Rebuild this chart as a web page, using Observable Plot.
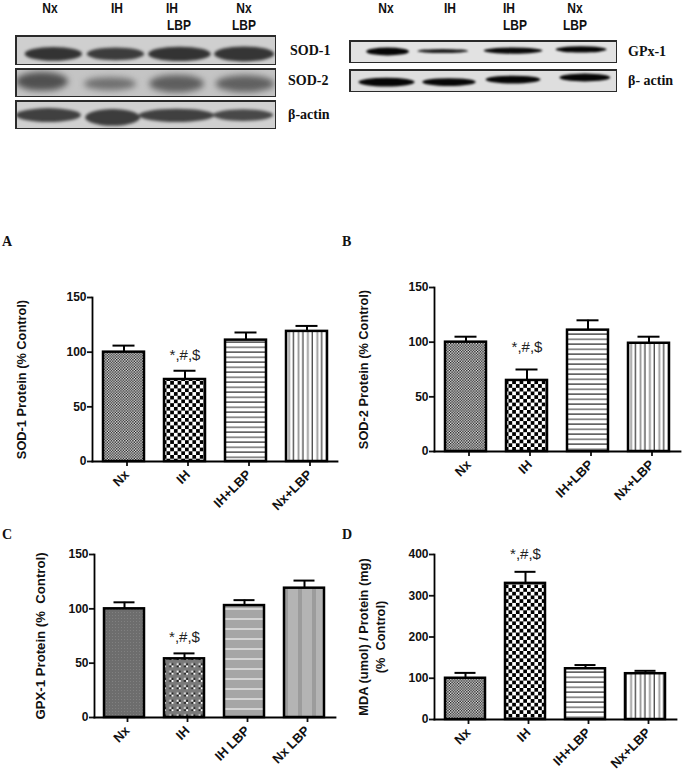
<!DOCTYPE html>
<html><head><meta charset="utf-8">
<script src="https://cdn.jsdelivr.net/npm/d3@7"></script>
<script src="https://cdn.jsdelivr.net/npm/@observablehq/plot@0.6"></script>
<style>
html,body{margin:0;padding:0;background:#fff;width:683px;height:771px;overflow:hidden}
#page{position:relative;width:683px;height:771px}
#page>svg,#page>figure{position:absolute;margin:0}
.t{position:absolute;white-space:nowrap;color:#111}
.lane{font:bold 15px "Liberation Sans";transform:translateX(-50%) scaleX(.8)}
.side{font:bold 14px "Liberation Serif"}
.panel{font:bold 14px "Liberation Serif"}
</style></head><body><div id="page"></div>
<svg width="0" height="0" style="position:absolute">
<defs>
<pattern id="fine" width="2.7" height="2.7" patternUnits="userSpaceOnUse"><rect width="2.7" height="2.7" fill="#f4f4f4"/><rect width="1.35" height="1.35" fill="#111"/><rect x="1.35" y="1.35" width="1.35" height="1.35" fill="#111"/></pattern>
<pattern id="check" width="7.4" height="7.4" patternUnits="userSpaceOnUse"><rect width="7.4" height="7.4" fill="#fff"/><rect width="3.7" height="3.7" fill="#000"/><rect x="3.7" y="3.7" width="3.7" height="3.7" fill="#000"/></pattern>
<pattern id="hlines" width="10" height="10" patternUnits="userSpaceOnUse"><rect width="10" height="10" fill="#fff"/><rect y="1.5" width="10" height="1.2" fill="#222"/><rect y="6.4" width="10" height="1.8" fill="#888"/></pattern>
<pattern id="vlines" width="9.4" height="10" patternUnits="userSpaceOnUse"><rect width="10" height="10" fill="#fff"/><rect x="1.5" width="1.2" height="10" fill="#333"/><rect x="6.2" width="1.8" height="10" fill="#999"/></pattern>
<pattern id="solidGrey" width="3" height="3" patternUnits="userSpaceOnUse"><rect width="3" height="3" fill="#6d6d6d"/><rect x="1" y="1" width="1" height="1" fill="#808080"/></pattern>
<pattern id="greyDots" width="7.3" height="7.3" patternUnits="userSpaceOnUse"><rect width="7.3" height="7.3" fill="#7a7a7a"/><rect x="1.5" y="1.5" width="2" height="2" fill="#fff"/><rect x="3.5" y="3.5" width="2" height="2" fill="#fff"/><rect x="3.5" y="1.5" width="2" height="2" fill="#222"/><rect x="1.5" y="3.5" width="2" height="2" fill="#222"/></pattern>
<pattern id="greyH" width="10" height="10" patternUnits="userSpaceOnUse"><rect width="10" height="10" fill="#a6a6a6"/><rect y="3" width="10" height="2" fill="#d4d4d4"/></pattern>
<pattern id="greyV" width="14" height="10" patternUnits="userSpaceOnUse"><rect width="14" height="10" fill="#b4b4b4"/><rect x="4" width="4" height="10" fill="#9c9c9c"/></pattern>
</defs></svg>
<script>
// ---- bar chart data ----
const groupsPlus = ["Nx", "IH", "IH+LBP", "Nx+LBP"];
const groupsSpace = ["Nx", "IH", "IH LBP", "Nx LBP"];
const sod1Values = [100, 75, 111, 119];
const sod1Upper  = [106, 83, 118, 124];
const sod2Values = [100, 65, 111, 99];
const sod2Upper  = [105, 75, 120, 105];
const gpxValues  = [100, 54, 103, 119];
const gpxUpper   = [106, 59, 108, 126];
const mdaValues  = [100, 330, 123, 111];
const mdaUpper   = [113, 358, 132, 118];
const inkPatterns = ["fine", "check", "hlines", "vlines"];
const greyPatterns = ["solidGrey", "greyDots", "greyH", "greyV"];
const marker = "*,#,$";

// ---- blot band data: lane centre, band width, row centre, band height (percent of strip), shade ----
const sod1Blot = {c:[14.7,38.5,63,87.8], w:[22,22,24,23], y:[63,63,63,63], h:[46,43,48,50], s:["#333","#3c3c3c","#333","#353535"]};
const sod2Blot = {c:[10.3,36.4,61.9,88.1], w:[20,20,21,22.5], y:[46,54,54,54], h:[64,45,60,58], s:["#505050","#707070","#5e5e5e","#606060"]};
const actLBlot = {c:[12.8,37.4,61.9,87.4], w:[25,21,29,23], y:[52,60,53,52], h:[48,58,45,40], s:["#404040","#3c3c3c","#404040","#484848"]};
const gpxBlot  = {c:[14.4,35,61.2,86.6], w:[16,19,22,19], y:[50,48,46,41], h:[34,18,27,27], s:["#060606","#1c1c1c","#0a0a0a","#060606"]};
const actRBlot = {c:[14,37.3,61.2,88], w:[21,20,20.5,19], y:[57,57,46,37], h:[38,34,34,34], s:["#060606","#060606","#060606","#060606"]};

const page = document.getElementById("page");
function put(el, left, top){ el.style.left = left+"px"; el.style.top = top+"px"; page.appendChild(el); }
function label(text, cls, left, top){ const d=document.createElement("div"); d.className="t "+cls; d.textContent=text; put(d,left,top); }

function strip(b, left, top, w, h, bg, blur){
  const rows = b.c.map((c,i)=>({x1:c-b.w[i]/2, x2:c+b.w[i]/2, y1:b.y[i]-b.h[i]/2, y2:b.y[i]+b.h[i]/2, s:b.s[i]}));
  const p = Plot.plot({width:w, height:h, margin:0,
    x:{domain:[0,100], axis:null}, y:{domain:[100,0], axis:null},
    style:{background:"transparent"},
    marks:[
      Plot.frame({fill:bg, stroke:"none"}),
      Plot.rect(rows,{x1:"x1",x2:"x2",y1:"y1",y2:"y2",fill:"s",rx:"50%",imageFilter:`blur(${blur}px)`,clip:true}),
      Plot.frame({stroke:"#2a2a2a",strokeWidth:3})
    ]});
  put(p,left,top);
}
strip(sod1Blot,15,35,261,30,"#cfcfcf",1.6);
strip(sod2Blot,15,68,261,29,"#c4c4c4",3);
strip(actLBlot,15,100,261,29,"#d0d0d0",1.8);
strip(gpxBlot,349,40,268,23,"#e2e2e2",1);
strip(actRBlot,349,69,268,23,"#dedede",1);

[["Nx",50,-1],["IH",117,-1],["IH",172,-1],["LBP",179,16],["Nx",244,-1],["LBP",244,16],
 ["Nx",386,-1],["IH",450,-1],["IH",509,-1],["LBP",515,16],["Nx",575,-1],["LBP",575,16]]
 .forEach(([t,x,y])=>label(t,"lane",x,y));
label("SOD-1","side",290,43); label("SOD-2","side",288,73); label("β-actin","side",288,107);
label("GPx-1","side",628,44); label("β- actin","side",628,73);
label("A","panel",2,234); label("B","panel",342,234); label("C","panel",2,527); label("D","panel",342,527);

function bars({groups,values,upper,fills,maxY,ticks,yLabel,yLabel2,yFont,offset,offset2,markerValue,left,top,axisX,axisTop,axisBottom,axisRight,svgBottom}){
  const rows = groups.map((g,i)=>({g,v:values[i],u:upper[i],f:fills[i]}));
  const p = Plot.plot({
    width: axisRight-left+6, height: svgBottom-top,
    marginLeft: axisX-left, marginRight: 6, marginTop: axisTop-top, marginBottom: svgBottom-axisBottom,
    style:{fontFamily:"Liberation Sans",fontWeight:"bold",fontSize:"12px",color:"#111",background:"transparent",overflow:"visible"},
    x:{domain:groups,paddingInner:.33,paddingOuter:.165,label:null},
    y:{domain:[0,maxY],label:null},
    marks:[
      Plot.ruleX(rows,{x:"g",y1:"v",y2:"u",stroke:"#000",strokeWidth:2}),
      Plot.tickY(rows,{x:"g",y:"u",stroke:"#000",strokeWidth:2,insetLeft:9.5,insetRight:9.5}),
      Plot.barY(rows,{x:"g",y:"v",fill:d=>`url(#${d.f})`,stroke:"#000",strokeWidth:2.5}),
      Plot.text([marker],{x:()=>groups[1],y:()=>markerValue,text:d=>d,fontSize:15,fontWeight:"normal",fill:"#222"}),
      Plot.axisY({ticks,tickSize:5,strokeWidth:1.8,tickPadding:1,fontSize:12,tickFormat:d=>d}),
      Plot.axisY({ticks:[],label:yLabel,labelAnchor:"center",labelArrow:"none",labelOffset:offset,fontSize:yFont}),
      yLabel2 ? Plot.axisY({ticks:[],label:yLabel2,labelAnchor:"center",labelArrow:"none",labelOffset:offset2,fontSize:yFont}) : null,
      Plot.axisX({tickSize:5,strokeWidth:1.8,tickRotate:-45,tickPadding:6,dx:3,fontSize:13,label:null}),
      Plot.frame({anchor:"left",stroke:"#000",strokeWidth:1.8}),
      Plot.frame({anchor:"bottom",stroke:"#000",strokeWidth:1.8})
    ]});
  put(p,left,top);
}
bars({groups:groupsPlus,values:sod1Values,upper:sod1Upper,fills:inkPatterns,maxY:150,ticks:[0,50,100,150],yLabel:"SOD-1 Protein (% Control)",yFont:12.8,offset:76,markerValue:97,
  left:0,top:270,axisX:92,axisTop:297,axisBottom:461,axisRight:337,svgBottom:530});
bars({groups:groupsPlus,values:sod2Values,upper:sod2Upper,fills:inkPatterns,maxY:150,ticks:[0,50,100,150],yLabel:"SOD-2 Protein (% Control)",yFont:12.8,offset:76,markerValue:95,
  left:342,top:262,axisX:434,axisTop:287,axisBottom:451,axisRight:680,svgBottom:520});
bars({groups:groupsSpace,values:gpxValues,upper:gpxUpper,fills:greyPatterns,maxY:150,ticks:[0,50,100,150],yLabel:"GPX-1 Protein (%  Control)",yFont:13.2,offset:59,markerValue:74,
  left:0,top:545,axisX:94,axisTop:554,axisBottom:717,axisRight:335,svgBottom:771});
bars({groups:groupsPlus,values:mdaValues,upper:mdaUpper,fills:inkPatterns,maxY:400,ticks:[0,100,200,300,400],yLabel:"MDA (umol) / Protein (mg)",yLabel2:"(%  Control)",yFont:12.8,offset:76,offset2:59,markerValue:401,
  left:342,top:540,axisX:434,axisTop:554,axisBottom:719,axisRight:676,svgBottom:771});
</script></body></html>
